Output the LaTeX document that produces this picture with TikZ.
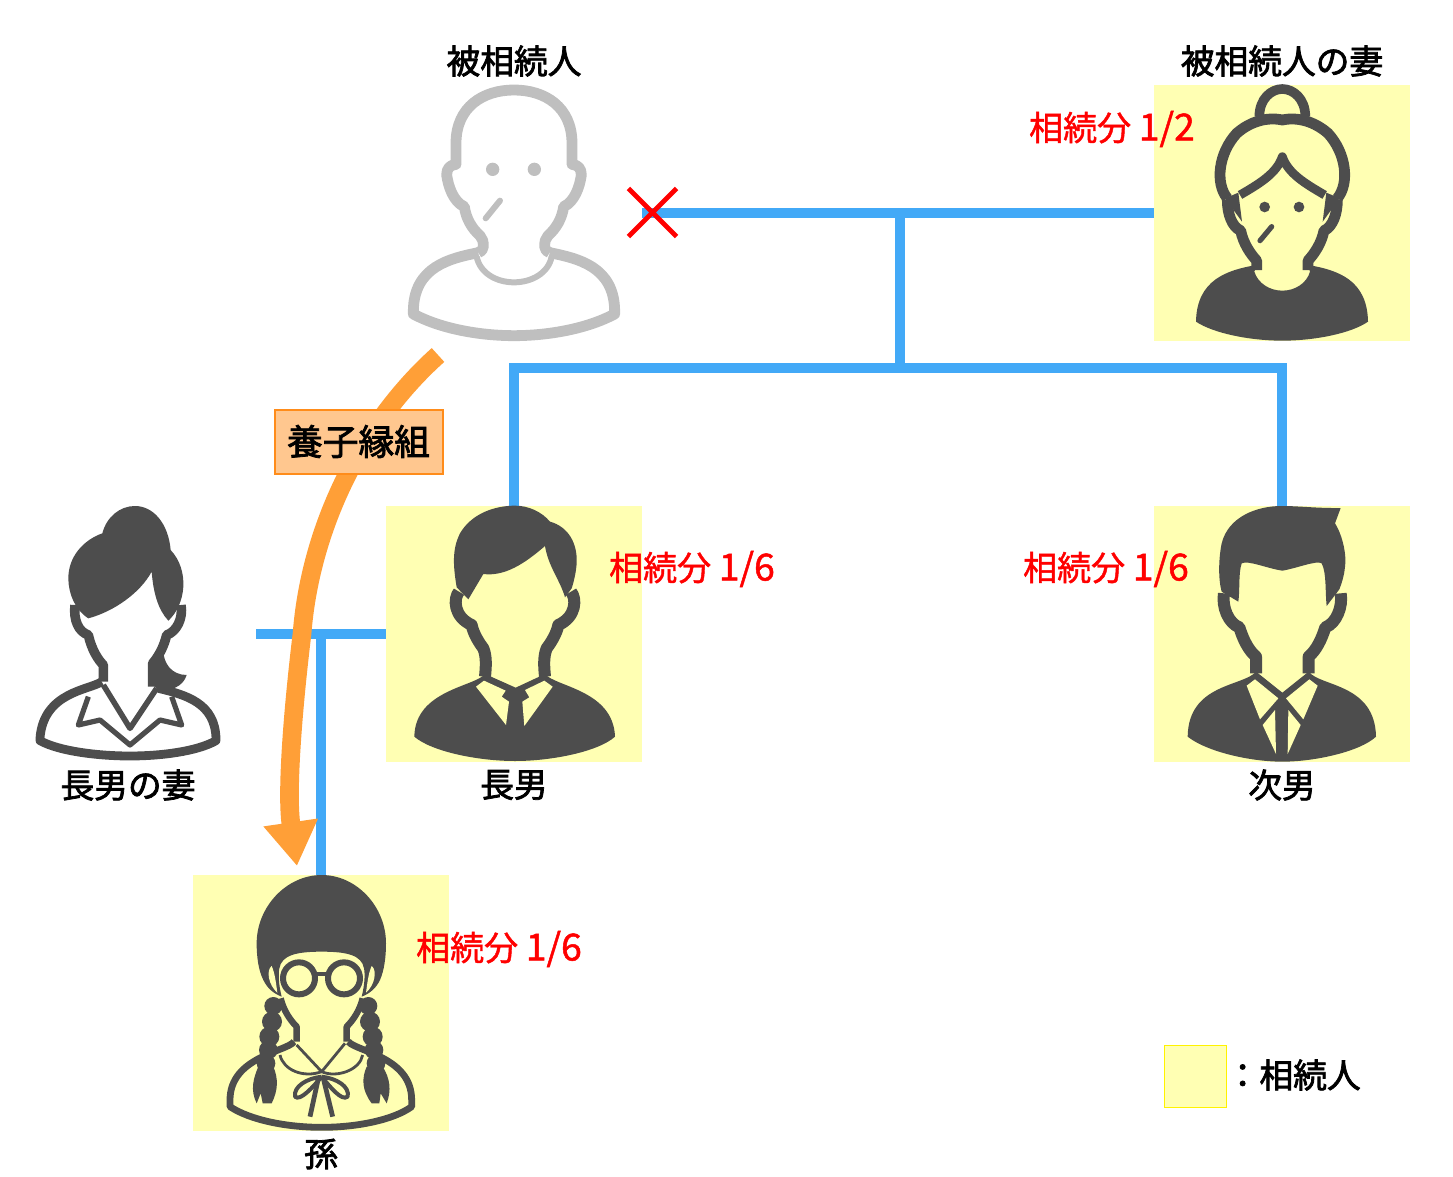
\documentclass[tikz,border=0pt]{standalone}
\usepackage{fontspec}
\setmainfont{Noto Sans CJK JP}
\newfontfamily\namefont[FakeBold=2.2]{Noto Sans CJK JP}
\newfontfamily\sharefont[FakeBold=1.3]{Noto Sans CJK JP}
\usetikzlibrary{arrows.meta, shapes.misc}
\definecolor{heiryellow}{HTML}{FFFFB3}
\definecolor{bondblue}{HTML}{42A9F7}
\definecolor{adoptorange}{HTML}{FF9F37}
\definecolor{adoptfill}{HTML}{FFC78F}
\definecolor{adoptline}{HTML}{FF8C1A}
\definecolor{iconsolid}{HTML}{4D4D4D}
\definecolor{iconghost}{HTML}{BFBFBF}
\newcommand{\sharenum}[1]{{\fontsize{28}{28}\selectfont #1}}
\tikzset{
    heirbox/.style={fill=heiryellow, minimum size=192pt, inner sep=0pt},
    bond/.style={draw=bondblue, line width=7pt},
    adopt/.style={draw=adoptorange, line width=14pt},
    namelabel/.style={font=\fontsize{25.3}{25.3}\namefont, inner sep=0pt},
    sharelabel/.style={font=\fontsize{25.5}{25.5}\sharefont, text=red, inner sep=0pt},
    icon/.style={x=0.25pt, y=-0.25pt, line join=round},
    thick stroke/.style={line width=#1*0.3pt}
}

\begin{document}
\begin{tikzpicture}[x=0.75pt, y=-0.75pt]
    \useasboundingbox (0,0) rectangle (1453,1177);

    % yellow squares of the heirs
    \node[heirbox] (wife) at (1282,213) {};
    \node[heirbox] (eldest) at (514,634) {};
    \node[heirbox] (second) at (1282,634) {};
    \node[heirbox] (grandchild) at (321,1003) {};

    % family lines
    \coordinate (bondend) at (642,213);
    \coordinate (marriage) at (900,213);
    \coordinate (branch) at (900,368);
    \coordinate (eldestbond) at (256,634);
    \coordinate (eldestjoin) at (321,634);
    \draw[bond] (bondend) -- (wife.west);
    \draw[bond] (marriage) -- (branch);
    \draw[bond] (eldest.north) |- (branch) -| (second.north);
    \draw[bond] (eldestbond) -- (eldest.west);
    \draw[bond] (eldestjoin) -- (grandchild.north);

    % deceased
    \begin{scope}[shift={(400,70)}, icon, draw=iconghost, fill=iconghost]
        \draw[thick stroke=27] (235,548) .. controls (150,565) and (40,590) .. (40,725) -- (40,732)
            .. controls (130,780) and (250,797) .. (342,797) .. controls (434,797) and (554,780) .. (644,732)
            -- (644,725) .. controls (644,590) and (534,565) .. (449,548);
        \draw[thick stroke=27] (235,548) .. controls (243,545) and (250,540) .. (250,530)
            .. controls (250,515) and (248,505) .. (240,497)
            .. controls (215,475) and (198,445) .. (193,410) .. controls (160,395) and (145,350) .. (140,315)
            .. controls (140,295) and (150,285) .. (168,283) -- (168,220)
            .. controls (168,110) and (250,60) .. (342,60) .. controls (434,60) and (516,110) .. (516,220)
            -- (516,283) .. controls (534,285) and (544,295) .. (544,315) .. controls (539,350) and (524,395) .. (491,410)
            .. controls (486,445) and (469,475) .. (444,497) .. controls (436,505) and (434,515) .. (434,530)
            .. controls (434,540) and (441,545) .. (449,548);
        \draw[thick stroke=15] (230,560) .. controls (240,610) and (290,637) .. (342,637) .. controls (394,637) and (445,610) .. (455,560);
        \fill (278,298) circle (20);
        \fill (403,298) circle (20);
        \draw[thick stroke=15, line cap=round] (300,392) -- (257,445);
    \end{scope}

    % wife of the deceased
    \begin{scope}[shift={(1150,70)}, icon, draw=iconsolid, fill=iconsolid]
        \fill (320,585) .. controls (230,600) and (140,630) .. (138,755) .. controls (190,790) and (300,812) .. (397,812)
            .. controls (494,812) and (604,790) .. (654,755) .. controls (652,630) and (564,600) .. (474,585)
            -- (480,605) .. controls (470,640) and (435,662) .. (397,662) .. controls (359,662) and (324,640) .. (313,605) -- cycle;
        \draw[thick stroke=27] (320,600) -- (320,572) .. controls (300,550) and (280,520) .. (272,482)
            .. controls (245,470) and (232,430) .. (232,390);
        \draw[thick stroke=27] (474,600) -- (474,572) .. controls (494,550) and (514,520) .. (522,482)
            .. controls (549,470) and (562,430) .. (562,390);
        \draw[thick stroke=27] (232,385) .. controls (195,340) and (205,250) .. (260,190)
            .. controls (300,155) and (350,140) .. (397,150) .. controls (444,140) and (494,155) .. (534,190)
            .. controls (589,250) and (599,340) .. (562,385);
        \draw[thick stroke=22] (270,375) .. controls (330,340) and (380,310) .. (397,260)
            .. controls (414,310) and (464,340) .. (524,375);
        \fill (225,385) -- (276,455) -- (265,368) -- cycle;
        \fill (569,385) -- (518,455) -- (529,368) -- cycle;
        \draw[thick stroke=24] (328,140) .. controls (328,85) and (365,57) .. (397,57) .. controls (429,57) and (466,85) .. (466,140);
        \fill (344,411) circle (16);
        \fill (447,411) circle (16);
        \draw[thick stroke=13, line cap=round] (365,470) -- (330,512);
    \end{scope}

    % wife of the eldest son
    \begin{scope}[shift={(20,500)}, icon, draw=iconsolid, fill=iconsolid]
        \fill (205,355) .. controls (165,330) and (145,280) .. (145,235) .. controls (145,170) and (190,120) .. (247,100)
            .. controls (260,50) and (300,18) .. (345,18) .. controls (400,18) and (445,70) .. (452,150)
            .. controls (480,180) and (492,220) .. (490,260) .. controls (488,300) and (470,340) .. (445,362)
            .. controls (415,330) and (400,280) .. (395,215) .. controls (360,280) and (280,335) .. (205,355) -- cycle;
        \draw[thick stroke=24] (250,545) -- (250,495) .. controls (235,480) and (215,450) .. (205,405)
            .. controls (175,395) and (160,360) .. (165,315);
        \draw[thick stroke=24] (398,560) -- (398,490) .. controls (415,470) and (432,440) .. (440,405)
            .. controls (470,395) and (490,355) .. (483,315);
        \fill (398,490) -- (430,450) .. controls (430,490) and (455,525) .. (500,525)
            .. controls (490,560) and (450,575) .. (415,570) -- (388,545) -- cycle;
        \draw[thick stroke=22] (245,545) .. controls (210,570) and (70,575) .. (60,715) -- (60,722)
            .. controls (120,755) and (240,768) .. (330,768) .. controls (420,768) and (530,755) .. (588,722)
            -- (588,715) .. controls (585,610) and (500,585) .. (415,565);
        \draw[thick stroke=13] (205,590) -- (175,675) -- (240,660) -- (330,735) -- (420,660) -- (485,675) -- (455,590);
        \draw[thick stroke=14] (250,555) -- (330,685) -- (410,565);
    \end{scope}

    % eldest son
    \begin{scope}[shift={(385,500)}, icon, draw=iconsolid, fill=iconsolid]
        \fill (250,298) -- (215,262) .. controls (205,200) and (200,150) .. (225,100) .. controls (260,40) and (330,17) .. (390,17)
            .. controls (430,17) and (470,35) .. (495,65) .. controls (550,80) and (578,130) .. (575,190)
            .. controls (573,220) and (565,250) .. (560,265) -- (540,292) .. controls (525,240) and (490,200) .. (480,138)
            .. controls (420,190) and (360,230) .. (295,222) -- cycle;
        \draw[thick stroke=30] (222,275) .. controls (205,295) and (205,350) .. (260,375) .. controls (265,400) and (280,425) .. (295,445)
            .. controls (305,470) and (303,500) .. (300,530);
        \draw[thick stroke=30] (558,275) .. controls (575,295) and (575,350) .. (520,375) .. controls (515,400) and (500,425) .. (485,445)
            .. controls (475,470) and (477,500) .. (480,530);
        \fill (300,522) .. controls (270,560) and (90,570) .. (88,710) .. controls (140,755) and (280,783) .. (390,783)
            .. controls (500,783) and (640,755) .. (690,710) .. controls (685,570) and (510,560) .. (480,522)
            -- (392,563) -- cycle;
        \fill[heiryellow] (273,560) -- (363,675) -- (372,605) -- (350,590) -- (362,572) -- (297,542) -- cycle;
        \fill[heiryellow] (503,560) -- (418,678) -- (412,605) -- (433,592) -- (420,570) -- (478,542) -- cycle;
    \end{scope}

    % second son
    \begin{scope}[shift={(1150,500)}, icon, draw=iconsolid, fill=iconsolid]
        \fill (215,275) .. controls (205,240) and (205,180) .. (215,130) .. controls (235,50) and (320,18) .. (395,18)
            .. controls (450,18) and (500,25) .. (572,24) -- (555,70) .. controls (580,110) and (590,170) .. (585,200)
            .. controls (582,230) and (575,250) .. (568,268) -- (530,318) .. controls (525,270) and (530,220) .. (515,190)
            .. controls (500,180) and (440,205) .. (397,212) .. controls (350,205) and (295,180) .. (275,190)
            .. controls (265,220) and (270,270) .. (265,305) -- cycle;
        \draw[thick stroke=30] (222,280) .. controls (215,320) and (235,370) .. (268,382) .. controls (280,420) and (295,450) .. (318,470) -- (318,520);
        \draw[thick stroke=30] (572,280) .. controls (579,320) and (559,370) .. (526,382) .. controls (514,420) and (499,450) .. (476,470) -- (476,520);
        \fill (318,515) .. controls (280,560) and (115,550) .. (113,710) .. controls (170,755) and (300,785) .. (397,785)
            .. controls (494,785) and (630,755) .. (678,710) .. controls (675,550) and (510,560) .. (476,515) -- (397,578) -- cycle;
        \fill[heiryellow] (290,557) -- (315,538) -- (385,595) -- (330,658) -- cycle;
        \fill[heiryellow] (503,557) -- (478,538) -- (408,595) -- (460,658) -- cycle;
        \fill[heiryellow] (338,675) -- (375,630) -- (378,762) -- cycle;
        \fill[heiryellow] (452,675) -- (415,630) -- (413,762) -- cycle;
    \end{scope}

    % grandchild
    \begin{scope}[shift={(190,870)}, icon, draw=iconsolid, fill=iconsolid]
        \foreach \bx/\by/\br in {250/408/27, 246/455/30, 238/500/30, 235/540/28, 228/580/28,
                                 535/408/27, 540/455/30, 548/500/30, 552/540/28, 558/580/28}
            \fill (\bx,\by) circle (\br);
        \fill (205,590) .. controls (190,625) and (180,660) .. (200,700) -- (212,670) -- (218,700) -- (245,700)
            .. controls (265,660) and (265,625) .. (250,590) -- cycle;
        \fill (530,590) .. controls (515,625) and (515,660) .. (545,700) -- (568,700) -- (572,670) -- (590,700)
            .. controls (605,660) and (600,625) .. (578,590) -- cycle;
        \fill (220,330) .. controls (205,300) and (200,260) .. (200,220) .. controls (200,110) and (290,15) .. (395,15)
            .. controls (500,15) and (588,110) .. (588,220) .. controls (588,260) and (583,300) .. (570,330)
            .. controls (558,355) and (540,370) .. (515,380) .. controls (525,340) and (525,310) .. (522,295)
            .. controls (515,255) and (470,245) .. (395,245) .. controls (320,245) and (275,255) .. (268,295)
            .. controls (265,310) and (265,340) .. (275,380) .. controls (250,370) and (232,355) .. (220,330) -- cycle;
        \fill[heiryellow] (245,288) .. controls (228,300) and (235,345) .. (262,368) .. controls (258,340) and (255,310) .. (245,288) -- cycle;
        \fill[heiryellow] (545,288) .. controls (562,300) and (555,345) .. (528,368) .. controls (532,340) and (535,310) .. (545,288) -- cycle;
        \draw[thick stroke=15] (327,325) circle (48);
        \draw[thick stroke=15] (462,325) circle (48);
        \draw[thick stroke=10] (378,312) -- (412,312);
        \draw[thick stroke=16] (272,385) .. controls (280,420) and (300,450) .. (320,470) -- (320,515);
        \draw[thick stroke=16] (518,385) .. controls (510,420) and (490,450) .. (470,470) -- (470,515);
        \draw[thick stroke=7] (320,525) -- (395,605) -- (465,520);
        \draw[thick stroke=7] (270,555) .. controls (280,600) and (340,625) .. (395,605) .. controls (440,625) and (510,600) .. (518,555);
        \draw[thick stroke=17] (312,515) .. controls (290,545) and (120,560) .. (120,690) -- (120,710)
            .. controls (180,750) and (290,772) .. (395,772) .. controls (500,772) and (610,750) .. (665,710) -- (665,690)
            .. controls (665,560) and (500,545) .. (475,515);
        \draw[thick stroke=10] (395,620) .. controls (350,625) and (310,650) .. (315,680) .. controls (330,695) and (370,650) .. (395,620);
        \draw[thick stroke=10] (395,620) .. controls (440,625) and (480,650) .. (473,680) .. controls (455,695) and (420,650) .. (395,620);
        \draw[thick stroke=12] (385,625) -- (360,740);
        \draw[thick stroke=12] (400,625) -- (428,740);
    \end{scope}

    % adoption arrow
    \coordinate (adoptstart) at (438,355);
    \coordinate (adoptend) at (297,866);
    \draw[adopt, -{Triangle[length=33pt, width=39pt]}] (adoptstart) .. controls (360,425) and (310,530) .. (302,634)
        .. controls (294,700) and (286,790) .. (adoptend);
    \node[draw=adoptline, fill=adoptfill, line width=1.5pt, minimum width=126pt, minimum height=48pt, inner sep=0pt,
        font=\fontsize{26.8}{26.8}\namefont] (adoption) at (358.5,441.5) {\raisebox{-2pt}{養子縁組}};

    % cross on the deceased side
    \node[cross out, draw=red, line width=3.6pt, minimum size=32.5pt, inner sep=0pt] (cross) at (652.5,212.5) {};

    % names
    \node[namelabel] (deceasedname) at (514,61) {被相続人};
    \node[namelabel] (wifename) at (1282,61) {被相続人の妻};
    \node[namelabel] (eldestwifename) at (128,785) {長男の妻};
    \node[namelabel] (eldestname) at (514,785) {長男};
    \node[namelabel] (secondname) at (1282,785) {次男};
    \node[namelabel] (grandchildname) at (321,1154) {孫};

    % shares
    \node[sharelabel] (wifeshare) at (1112,129) {相続分 \sharenum{1/2}};
    \node[sharelabel] (eldestshare) at (692,569) {相続分 \sharenum{1/6}};
    \node[sharelabel] (secondshare) at (1106,569) {相続分 \sharenum{1/6}};
    \node[sharelabel] (grandchildshare) at (499,949) {相続分 \sharenum{1/6}};

    % legend
    \node[fill=heiryellow, draw=yellow, line width=0.75pt, minimum size=46.5pt, inner sep=0pt] (legendbox) at (1195.5,1076) {};
    \node[namelabel, anchor=west] (legendtext) at (1225.5,1075) {：相続人};
\end{tikzpicture}
\end{document}
